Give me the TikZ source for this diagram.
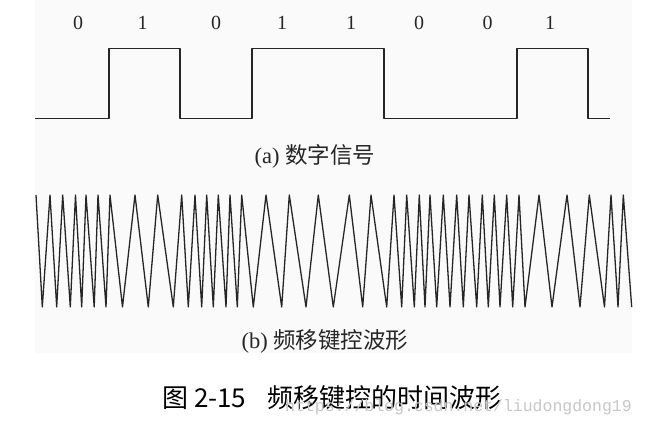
\documentclass[tikz,border=0pt]{standalone}
\usepackage{fontspec}
\setmainfont{Liberation Serif}
\newfontfamily\cjk{Noto Sans CJK SC}
\newfontfamily\wmfont{Liberation Mono}
\begin{document}
\begin{tikzpicture}[x=1pt,y=-1pt,
  bitlabel/.style={inner sep=0pt,font=\fontsize{20}{20}\selectfont, text=black!85},
  sublabel/.style={inner sep=0pt,font=\fontsize{22.5}{24}\selectfont, text=black!85},
  captext/.style={inner sep=0pt,anchor=west,font=\fontsize{26}{28}\selectfont},
  wave/.style={line width=1.3pt, draw=black!85, line join=round},
  watermark/.style={inner sep=0pt,anchor=west,text=black!22,font=\wmfont\fontsize{16.5}{18}\selectfont}]
\useasboundingbox (0,0) rectangle (645,428);
\fill[white] (0,0) rectangle (645,428);
\fill[black!2] (35,0) rectangle (632,353);
% bit labels
\node[bitlabel] (b1) at (78,23) {0};
\node[bitlabel] (b2) at (142.5,23) {1};
\node[bitlabel] (b3) at (216,23) {0};
\node[bitlabel] (b4) at (282,23) {1};
\node[bitlabel] (b5) at (351,23) {1};
\node[bitlabel] (b6) at (419,23) {0};
\node[bitlabel] (b7) at (487.5,23) {0};
\node[bitlabel] (b8) at (550,23) {1};
% digital signal
\draw[wave] (35,118.3) -- (109,118.3) -- (109,48.3) -- (180,48.3) -- (180,118.3)
  -- (252,118.3) -- (252,48.3) -- (384,48.3) -- (384,118.3) -- (517,118.3)
  -- (517,48.3) -- (588,48.3) -- (588,118.3) -- (610,118.3);
\node[sublabel] (la) at (315,156) {(a) {\cjk 数字信号}};
% FSK waveform
\draw[wave] plot coordinates {
 (36,195) (42.3,307) (50,195) (56.7,307) (62.7,195) (70.3,307) (75.5,195) (81.7,307)
 (86,195) (94.2,307) (98,195) (106,307) (110,195) (122.5,307) (135,195) (148.3,307)
 (157.7,195) (173.3,307) (181.7,195) (188.3,307) (195,195) (201.7,307) (206.7,195)
 (213.3,307) (218.3,195) (226,307) (230,195) (237.3,307) (241.7,195) (253.3,307)
 (266,195) (281.7,307) (289.3,195) (306,307) (318.3,195) (333.3,307) (349.3,195)
 (362.7,307) (371,195) (386.7,307) (394,195) (401.7,307) (406.7,195) (414.3,307)
 (419.3,195) (425,307) (430,195) (436.7,307) (443.3,195) (450,307) (456.7,195)
 (463.3,307) (469,195) (476.7,307) (482.3,195) (488.3,307) (494.3,195) (500,307)
 (506.7,195) (512.7,307) (519,195) (525,307) (539,195) (552,307) (567,195) (580,307)
 (589.3,195) (604.5,307) (611,195) (618,307) (623.3,195) (631.7,307)};
\node[sublabel] (lb) at (325,341) {(b) {\cjk 频移键控波形}};
% caption
\node[captext] (c1) at (162,398) {\cjk 图 2-15};
\node[captext] (c2) at (267,398) {\cjk 频移键控的时间波形};
\node[watermark] (wm) at (285,407) {https://blog.csdn.net/liudongdong19};
\end{tikzpicture}
\end{document}
